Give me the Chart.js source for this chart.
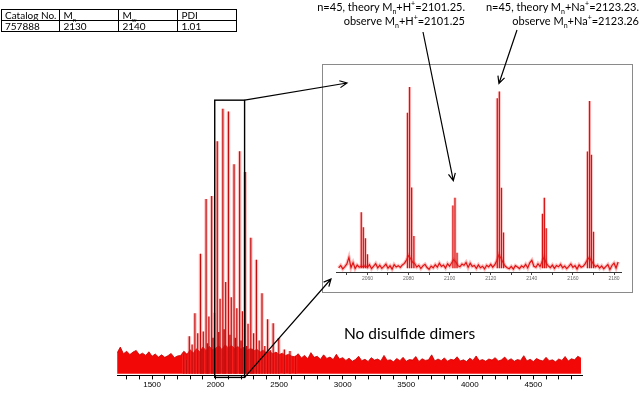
<!DOCTYPE html>
<html>
<head>
<meta charset="utf-8">
<script src="https://cdn.jsdelivr.net/npm/chart.js@4"></script>
<style>
  body { margin: 0; background: #fff; }
  #wrap { position: relative; width: 640px; height: 396px; overflow: hidden; font-family: Lato, "Open Sans", sans-serif; color: #000; }
  #main, #overlay { position: absolute; left: 0; top: 0; }
  #overlay { pointer-events: none; z-index: 5; }
  #insetBox { position: absolute; left: 322px; top: 64px; width: 311px; height: 229px; box-sizing: border-box; border: 1px solid #8a8a8a; background: #fff; }
  #inset { position: absolute; left: 0; top: 0; }
  table.cat { position: absolute; left: 1px; top: 9px; border-collapse: collapse; table-layout: fixed; font-size: 10px; line-height: 10px; }
  table.cat td { border: 1px solid #000; padding: 0 3px; height: 10px; white-space: nowrap; }
  table.cat sub { font-size: 6px; }
  .note { position: absolute; text-align: right; font-size: 11px; line-height: 14px; white-space: nowrap; }
  sub, sup { font-size: 7px; line-height: 0; }
  #dimers { position: absolute; left: 344px; top: 324px; font-size: 15.5px; white-space: nowrap; }
</style>
</head>
<body>
<div id="wrap">
  <canvas id="main" width="640" height="396"></canvas>
  <div id="insetBox"><canvas id="inset" width="309" height="227"></canvas></div>
  <table class="cat">
    <colgroup><col style="width:58px"><col style="width:59px"><col style="width:59px"><col style="width:59px"></colgroup>
    <tr><td>Catalog No.</td><td>M<sub>n</sub></td><td>M<sub>w</sub></td><td>PDI</td></tr>
    <tr><td>757888</td><td>2130</td><td>2140</td><td>1.01</td></tr>
  </table>
  <div class="note" style="right:175px; top:0px;">n=45, theory M<sub>n</sub>+H<sup>+</sup>=2101.25.<br>observe M<sub>n</sub>+H<sup>+</sup>=2101.25</div>
  <div class="note" style="right:1px; top:0px;">n=45, theory M<sub>n</sub>+Na<sup>+</sup>=2123.23.<br>observe M<sub>n</sub>+Na<sup>+</sup>=2123.26</div>
  <div id="dimers">No disulfide dimers</div>
  <canvas id="overlay" width="640" height="396"></canvas>
</div>

<script>

	// main spectrum
	var mainTicks = [1500, 2000, 2500, 3000, 3500, 4000, 4500];

	var protonMz  = [1749, 1793, 1837, 1881, 1925, 1969, 2013, 2057, 2101, 2145, 2189, 2233, 2277, 2321, 2365, 2409, 2453, 2497, 2541, 2585, 2629];
	var protonInt = [7.0, 13.5, 21.8, 43.2, 62.9, 64.0, 83.7, 95.4, 94.4, 75.4, 80.1, 72.6, 49.0, 41.0, 29.0, 19.6, 18.2, 12.9, 8.7, 8.2, 6.5];

	var sodiumMz  = [1771, 1815, 1859, 1903, 1947, 1991, 2035, 2079, 2123, 2167, 2211, 2255, 2299, 2343, 2387, 2431, 2475];
	var sodiumInt = [5.0, 10.5, 14.6, 15.2, 20.6, 22.0, 27.0, 33.0, 27.5, 23.6, 22.5, 18.0, 14.6, 12.0, 10.0, 8.5, 7.0];

	var minorMz  = [1892, 1936, 1980, 2024, 2068, 2112, 2156, 2200, 2244, 2288];
	var minorInt = [9, 11, 13, 15, 16, 14, 13, 12, 10, 9];

	var noiseStart = 1225, noiseStep = 25;
	var noiseLevel = [
		7.5, 9.6, 7.2, 8.1, 6.9, 7.8, 8.4, 6.8,
		7.4, 6.6, 7.9, 6.3, 7.1, 6.0, 6.8, 5.9, 6.5, 7.3, 5.8, 6.4,
		6.6, 8.1, 7.0, 8.6, 7.5, 9.0, 7.9, 9.6, 8.3, 9.9, 8.6, 9.2, 10.1, 8.7, 10.4, 9.3, 10.2, 9.0,
		9.8, 8.8, 9.6, 8.5, 9.1, 8.2, 8.8, 7.8, 8.5, 7.5, 8.1, 7.2, 7.8, 6.9, 7.4, 6.6, 7.0, 6.3,
		6.1, 7.2, 5.7, 6.6, 5.4, 7.6, 5.9, 6.3, 5.2, 6.8, 5.5, 6.0, 5.1, 7.0, 5.3, 5.8,
		4.8, 5.6, 4.5, 5.1, 6.3, 4.7, 5.2, 4.4, 5.8, 4.9,
		5.3, 4.6, 6.6, 4.8, 5.0, 4.3, 5.5, 4.7, 5.9, 4.5,
		5.1, 4.9, 6.2, 4.4, 5.4, 4.8, 5.0, 6.8, 4.6, 5.3,
		4.7, 5.7, 4.5, 5.2, 4.9, 6.1, 4.6, 5.0, 4.4, 5.6,
		4.8, 6.4, 4.7, 5.1, 4.5, 5.3, 4.9, 5.8, 4.6, 5.0,
		6.0, 4.7, 5.4, 4.5, 5.1, 4.8, 6.5, 4.6, 5.2, 4.4,
		5.5, 4.9, 4.6, 5.9, 4.7, 5.0, 4.3, 5.3, 4.8, 6.2,
		4.6, 5.4, 5.0, 6.3, 5.6
	];

	// zoomed region marked on the main spectrum
	var zoomLo = 1993, zoomHi = 2228;

	// inset spectrum
	var insetTicks = [2060, 2080, 2100, 2120, 2140, 2160, 2180];
	var insetMz  = [2057.0, 2058.0, 2059.0, 2060.0, 2079.5, 2080.5, 2081.5, 2082.6, 2101.6, 2102.6, 2103.6,
		2123.2, 2124.2, 2125.2, 2126.2, 2145.2, 2146.1, 2147.0, 2167.1, 2168.1, 2169.0, 2170.0];
	var insetInt = [31.1, 23.3, 17.6, 9.3, 82.9, 96.4, 44.0, 18.7, 34.7, 38.7, 10.0,
		90.5, 94.0, 43.9, 20.6, 30.4, 38.7, 22.8, 62.8, 89.1, 61.1, 20.9];

	var insetNoiseStart = 2046;
	var insetNoise = [
		2.1, 3.4, 1.6, 2.8, 4.2, 7.6, 2.3, 4.9, 1.8, 3.6,
		2.5, 3.1, 2.7, 3.3, 2.4, 3.8, 1.7, 3.0, 4.4, 2.2,
		3.5, 1.9, 2.9, 4.1, 2.0, 3.2, 1.5, 3.9, 2.6, 3.3,
		2.4, 3.7, 4.5, 6.2, 8.5, 7.0, 5.1, 4.4, 2.6, 3.5,
		1.8, 3.2, 4.0, 2.3, 1.4, 3.1, 2.2, 3.8, 2.5, 4.6,
		2.9, 3.6, 2.1, 4.3, 3.0, 4.8, 6.4, 5.2, 3.3, 2.7,
		4.1, 3.5, 5.0, 2.4, 4.6, 2.9, 3.4, 1.9, 3.7, 2.2,
		3.0, 1.6, 3.5, 2.7, 4.0, 2.5, 3.8, 6.0, 8.9, 7.2,
		5.0, 3.1, 2.2, 1.7, 2.9, 1.5, 3.3, 2.6, 1.8, 3.2,
		2.4, 4.0, 2.1, 4.8, 6.1, 3.0, 2.5, 4.3, 2.8, 5.5,
		7.8, 4.6, 3.2, 2.3, 3.6, 1.9, 3.4, 2.7, 4.0, 2.2,
		3.1, 1.8, 2.9, 4.2, 2.4, 3.3, 1.6, 3.7, 2.5, 3.0,
		4.4, 6.3, 7.5, 5.8, 4.1, 2.7, 3.5, 2.0, 3.2, 1.7,
		2.8, 3.9, 1.3, 3.4, 4.6, 2.1, 5.2
	];

	// vertical sticks, broken by nulls
	function sticks(mz, ints, base) {
		var pts = [];
		for (var i = 0; i < mz.length; i++) {
			pts.push({x: mz[i], y: base}, {x: mz[i], y: ints[i]}, {x: mz[i], y: null});
		}
		return pts;
	}

	var mainPeaks = sticks(protonMz, protonInt, 0)
		.concat(sticks(sodiumMz, sodiumInt, 0))
		.concat(sticks(minorMz, minorInt, 0));

	var mainNoise = noiseLevel.map(function (v, i) {
		return {x: noiseStart + i * noiseStep, y: v};
	});

	var insetNoisePts = insetNoise.map(function (v, i) {
		return {x: insetNoiseStart + i, y: v};
	});

	var mainChart = new Chart(document.getElementById('main'), {
		type: 'line',
		data: {
			datasets: [
				{ data: mainPeaks, borderColor: 'rgb(196,14,14)', borderWidth: 1.2, order: 1 },
				{ data: mainPeaks, borderColor: 'rgba(255,70,70,0.35)', borderWidth: 3.5, order: 2 },
				{ data: mainNoise, fill: 'origin', backgroundColor: 'rgb(243,8,8)', borderColor: 'rgb(200,0,0)', borderWidth: 0.8, order: 3 }
			]
		},
		options: {
			responsive: false,
			animation: false,
			layout: { padding: { left: 117, right: 58, top: 96, bottom: 5 } },
			elements: { point: { radius: 0 }, line: { tension: 0 } },
			plugins: { legend: { display: false }, tooltip: { enabled: false } },
			scales: {
				x: {
					type: 'linear', min: 1224, max: 4883,
					border: { color: '#000', width: 1 },
					grid: { drawOnChartArea: false, color: '#000', tickLength: 4 },
					ticks: {
						stepSize: 100, includeBounds: false, autoSkip: false, maxRotation: 0, padding: 1,
						color: '#000', font: { size: 8, family: '"Liberation Sans", Arial, sans-serif' },
						callback: function (v) { return mainTicks.indexOf(v) >= 0 ? String(v) : ''; }
					}
				},
				y: { display: false, min: -0.6, max: 100 }
			}
		}
	});

	var insetChart = new Chart(document.getElementById('inset'), {
		type: 'line',
		data: {
			datasets: [
				{ data: sticks(insetMz, insetInt, 2), borderColor: 'rgb(214,18,18)', borderWidth: 1.2, order: 1 },
				{ data: sticks(insetMz, insetInt, 2), borderColor: 'rgba(255,80,80,0.35)', borderWidth: 3, order: 2 },
				{ data: insetNoisePts, borderColor: 'rgb(222,20,20)', borderWidth: 1.2, order: 3 },
				{ data: insetNoisePts, borderColor: 'rgba(255,90,90,0.4)', borderWidth: 3.5, order: 4 }
			]
		},
		options: {
			responsive: false,
			animation: false,
			layout: { padding: { left: 13, right: 11, top: 15, bottom: 9 } },
			elements: { point: { radius: 0 }, line: { tension: 0 } },
			plugins: { legend: { display: false }, tooltip: { enabled: false } },
			scales: {
				x: {
					type: 'linear', min: 2044.7, max: 2183.4,
					border: { color: '#333', width: 1 },
					grid: { drawOnChartArea: false, color: '#444', tickLength: 3 },
					ticks: {
						stepSize: 10, includeBounds: false, autoSkip: false, maxRotation: 0, padding: 1,
						color: '#666', font: { size: 5, family: '"Liberation Sans", Arial, sans-serif' },
						callback: function (v) { return insetTicks.indexOf(v) >= 0 ? String(v) : ''; }
					}
				},
				y: { display: false, min: 0, max: 100 }
			}
		}
	});

	// rectangle, zoom lines and label arrows
	var ctx = document.getElementById('overlay').getContext('2d');
	var insetLeft = 323, insetTop = 65;

	function arrow(x1, y1, x2, y2) {
		var a = Math.atan2(y2 - y1, x2 - x1), len = 8, spread = 0.45;
		ctx.beginPath();
		ctx.moveTo(x1, y1);
		ctx.lineTo(x2, y2);
		ctx.moveTo(x2 - len * Math.cos(a - spread), y2 - len * Math.sin(a - spread));
		ctx.lineTo(x2, y2);
		ctx.lineTo(x2 - len * Math.cos(a + spread), y2 - len * Math.sin(a + spread));
		ctx.stroke();
	}

	var xs = mainChart.scales.x, ys = mainChart.scales.y;
	var rx1 = xs.getPixelForValue(zoomLo), rx2 = xs.getPixelForValue(zoomHi);
	var ry1 = ys.getPixelForValue(98.5), ry2 = mainChart.chartArea.bottom + 2;

	ctx.strokeStyle = '#000';
	ctx.lineWidth = 1.4;
	ctx.strokeRect(rx1, ry1, rx2 - rx1, ry2 - ry1);

	ctx.lineWidth = 1.2;
	arrow(rx2, ry1, insetLeft + 24, insetTop + 18);
	arrow(rx2, ry2, insetLeft + 8, insetTop + 214);

	var ix = insetChart.scales.x, iy = insetChart.scales.y;
	arrow(423, 32, insetLeft + ix.getPixelForValue(2101.8), insetTop + iy.getPixelForValue(38.7) - 17);
	arrow(517, 30, insetLeft + ix.getPixelForValue(2124.0), insetTop + iy.getPixelForValue(94) - 8);

</script>
</body>
</html>
